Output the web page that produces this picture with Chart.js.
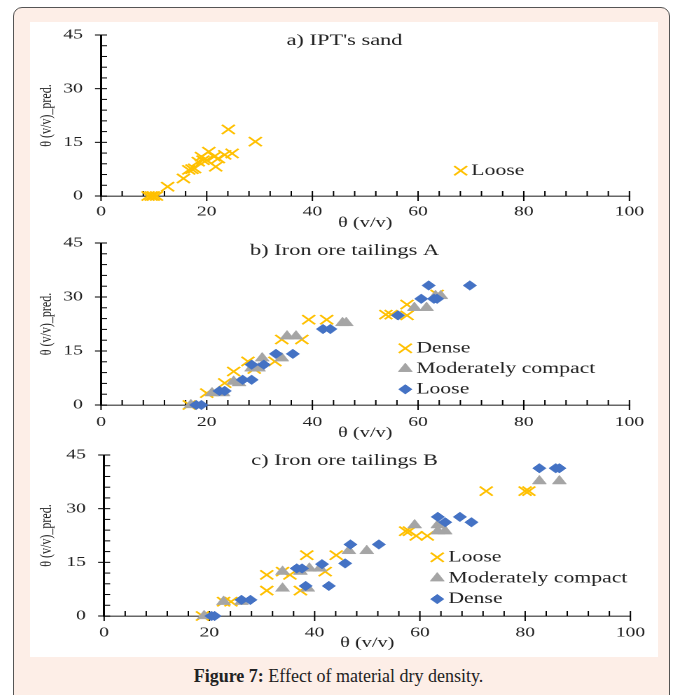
<!DOCTYPE html>
<html>
<head>
<meta charset="utf-8">
<script src="https://cdn.jsdelivr.net/npm/chart.js@4.4.1/dist/chart.umd.min.js"></script>
<style>
  html, body { margin: 0; padding: 0; background: #fff; }
  body { width: 677px; height: 695px; position: relative; overflow: hidden; font-family: "Liberation Serif", serif; }
  .frame { position: absolute; left: 13px; top: 7px; width: 657px; height: 720px; box-sizing: border-box;
           border: 1.5px solid #555; border-radius: 9px; background: #fdeee7; }
  .panel { position: absolute; left: 30px; top: 22px; width: 628px; height: 635px; background: #fff; }
  canvas { position: absolute; left: 30px; }
  .caption { position: absolute; left: 0; width: 677px; top: 666px; text-align: center; font-size: 18px; color: #222; }
</style>
</head>
<body>
<div class="frame"></div>
<div class="panel"></div>
<canvas id="chartA"></canvas>
<canvas id="chartB"></canvas>
<canvas id="chartC"></canvas>
<div class="caption"><b>Figure 7:</b> Effect of material dry density.</div>

<script>
// ---- data ----
// a) IPT's sand
var sandLooseX = [8.9, 9.5, 9.9, 10.5, 12.6, 15.6, 16.6, 17.2, 17.7, 18.4, 19, 19.3, 20, 20.4, 21.4, 21.7, 22.2, 23.4, 24.8, 24.1, 29.2];
var sandLooseY = [0, 0, 0, 0, 2.6, 4.9, 7.3, 7.5, 7.7, 9.6, 11, 10, 10, 12.4, 11, 8.2, 10.5, 11.5, 11.9, 18.6, 15.2];

// b) Iron ore tailings A
var aDenseX = [16.7, 20, 23.4, 25.1, 27.8, 29, 32.9, 34.2, 38, 39.3, 42.7, 53.9, 54.9, 57.9, 57.9, 63.6];
var aDenseY = [0, 3.3, 6.1, 9.3, 12.1, 10, 12.1, 18.2, 18.2, 23.7, 23.7, 25.1, 25.1, 24.9, 27.9, 30.7];
var aModX = [17, 21, 23.1, 25.1, 26.1, 28.5, 29.8, 30.5, 34.2, 35.2, 36.9, 45.7, 46.4, 59.3, 61.6, 63.3, 64.3];
var aModY = [0, 3.3, 3.3, 6.5, 6.1, 10.2, 10.2, 13, 13, 19.1, 19.1, 22.8, 22.8, 27, 27, 30.3, 30.3];
var aLooseX = [18, 19, 22.4, 23.4, 26.8, 28.5, 28.5, 30.8, 33.1, 36.3, 42, 43.4, 56.2, 60.6, 63, 63.6, 62, 69.8];
var aLooseY = [0, 0, 3.9, 3.9, 7, 7, 11.2, 11.2, 14.2, 14.2, 21.1, 21.1, 24.9, 29.5, 29.5, 29.5, 33.2, 33.2];

// c) Iron ore tailings B
var bLooseX = [18.7, 22.7, 24.1, 30.9, 30.9, 33.9, 35.3, 37.3, 38.5, 42, 44.1, 57.3, 58, 59.3, 61.4, 72.6, 80, 80.7];
var bLooseY = [0, 4, 4, 7.1, 11.5, 12.4, 11.5, 7.1, 17, 12.4, 17, 23.7, 23.7, 22.4, 22.4, 34.9, 34.9, 34.9];
var bModX = [19, 22.7, 26.1, 33.9, 33.9, 37.3, 38.7, 39, 41, 46.5, 49.9, 59, 63.4, 63.4, 64.8, 82.7, 86.5];
var bModY = [0, 4, 4, 12.4, 7.7, 12.4, 7.7, 13.3, 13.3, 18.2, 18.2, 25.4, 25.4, 23.7, 23.7, 37.7, 37.7];
var bDenseX = [20.4, 21, 26.1, 27.8, 36.6, 37.6, 38.3, 41.4, 42.7, 45.8, 46.8, 52.2, 63.4, 64.8, 67.6, 69.8, 82.7, 85.8, 86.5];
var bDenseY = [0, 0, 4.5, 4.5, 13.3, 13.3, 8.4, 14.5, 8.4, 14.7, 20, 20, 27.7, 26.2, 27.7, 26.2, 41.3, 41.3, 41.3];

// axes
var X_MAX = 100, X_STEP = 20, X_MINOR = 4;
var Y_MAX = 45, Y_STEP = 15, Y_MINOR = 3;

// ---- styles ----
var SERIF = '"Liberation Serif", "Times New Roman", serif';
var S = 1.4;      // the original figure is stretched horizontally
var LW = 449;     // logical canvas width

var STYLES = {
  cross:    { style: 'crossRot', r: 6.5, color: '#FFC000', lw: 1.6 },
  triangle: { style: 'triangle', r: 5.8, color: '#A5A5A5', lw: 0.5 },
  diamond:  { style: 'rectRot',  r: 4.8, color: '#4472C4', lw: 0.5 }
};

function series(label, xs, ys, kind, order) {
  var st = STYLES[kind];
  return {
    label: label,
    data: xs.map(function (x, i) { return { x: x, y: ys[i] }; }),
    pointStyle: st.style,
    pointRadius: st.r,
    pointHoverRadius: st.r,
    pointBorderWidth: st.lw,
    backgroundColor: st.color,
    borderColor: st.color,
    borderWidth: st.lw,
    showLine: false,
    clip: false,
    order: order
  };
}

function drawMarker(ctx, ds, x, y) {
  var r = ds.pointRadius;
  ctx.save();
  ctx.fillStyle = ds.backgroundColor;
  ctx.strokeStyle = ds.borderColor;
  ctx.lineWidth = ds.borderWidth;
  ctx.beginPath();
  if (ds.pointStyle === 'crossRot') {
    var d = r * Math.SQRT1_2;
    ctx.moveTo(x - d, y - d); ctx.lineTo(x + d, y + d);
    ctx.moveTo(x - d, y + d); ctx.lineTo(x + d, y - d);
    ctx.stroke();
  } else if (ds.pointStyle === 'triangle') {
    var w = r * Math.sin(2 * Math.PI / 3);
    ctx.moveTo(x, y - r); ctx.lineTo(x + w, y + r / 2); ctx.lineTo(x - w, y + r / 2);
    ctx.closePath(); ctx.fill(); ctx.stroke();
  } else {
    ctx.moveTo(x, y - r); ctx.lineTo(x + r, y); ctx.lineTo(x, y + r); ctx.lineTo(x - r, y);
    ctx.closePath(); ctx.fill(); ctx.stroke();
  }
  ctx.restore();
}

// major ticks cross the axis, minor ones point inwards
var axisTicks = {
  id: 'axisTicks',
  beforeDatasetsDraw: function (chart) {
    var ctx = chart.ctx, x = chart.scales.x, y = chart.scales.y;
    var ax = x.left, ay = y.bottom;
    ctx.save();
    ctx.strokeStyle = '#000';
    ctx.lineWidth = 1;
    for (var v = 0; v <= X_MAX; v += X_MINOR) {
      var px = x.getPixelForValue(v);
      ctx.beginPath();
      ctx.moveTo(px, ay - 5);
      ctx.lineTo(px, v % X_STEP === 0 ? ay + 5 : ay);
      ctx.stroke();
    }
    for (var w = 0; w <= Y_MAX; w += Y_MINOR) {
      var py = y.getPixelForValue(w);
      ctx.beginPath();
      ctx.moveTo(ax + 4.3, py);
      ctx.lineTo(w % Y_STEP === 0 ? ax - 4.3 : ax, py);
      ctx.stroke();
    }
    ctx.restore();
  }
};

var markerLegend = {
  id: 'markerLegend',
  afterDatasetsDraw: function (chart, args, opts) {
    if (!opts || opts.x === undefined) return;
    var ctx = chart.ctx;
    chart.data.datasets.forEach(function (ds, i) {
      var yy = opts.y + i * opts.gap;
      drawMarker(ctx, ds, opts.x, yy);
      ctx.save();
      ctx.fillStyle = '#222';
      ctx.font = '15.5px ' + SERIF;
      ctx.textAlign = 'left';
      ctx.textBaseline = 'middle';
      ctx.fillText(ds.label, opts.textX, yy);
      ctx.restore();
    });
  }
};

function makeChart(id, top, h, o) {
  var canvas = document.getElementById(id);
  canvas.width = LW;
  canvas.height = h;
  canvas.style.top = top + 'px';
  canvas.style.width = (LW * S) + 'px';
  canvas.style.height = h + 'px';

  return new Chart(canvas, {
    type: 'scatter',
    data: { datasets: o.datasets },
    options: {
      responsive: false,
      devicePixelRatio: 2,
      animation: false,
      events: [],
      layout: { autoPadding: false, padding: { left: o.pad, top: 0, right: o.pad, bottom: 0 } },
      scales: {
        x: {
          type: 'linear', min: 0, max: X_MAX,
          ticks: { stepSize: X_STEP, padding: o.xTickPad, color: '#222', font: { family: SERIF, size: 14 } },
          grid: { display: false, drawTicks: false },
          border: { color: '#666', width: 1.5 },
          title: { display: true, text: 'θ (v/v)', color: '#222',
                   font: { family: SERIF, size: 14.5, lineHeight: 1 },
                   padding: { top: 0, bottom: o.xTitlePad } },
          afterFit: function (s) { s.height = o.xHeight; s.paddingLeft = 0; s.paddingRight = 0; }
        },
        y: {
          type: 'linear', min: 0, max: Y_MAX,
          ticks: { stepSize: Y_STEP, padding: 13, color: '#222', font: { family: SERIF, size: 14 } },
          grid: { display: false, drawTicks: false },
          border: { color: '#000', width: 1.5 },
          title: { display: true, text: 'θ (v/v)_pred.', color: '#222',
                   font: { family: SERIF, size: 12, lineHeight: 1 },
                   padding: { top: o.yTitlePad, bottom: 0 } },
          afterFit: function (s) { s.width = o.yWidth; s.paddingTop = 0; s.paddingBottom = 0; }
        }
      },
      plugins: {
        legend: { display: false },
        tooltip: { enabled: false },
        title: {
          display: true, text: o.title, color: '#222',
          font: { family: SERIF, size: 16, weight: 'normal', lineHeight: 1 },
          padding: { top: o.titleTop, bottom: o.titleBottom }
        },
        markerLegend: o.legend
      }
    },
    plugins: [axisTicks, markerLegend]
  });
}

makeChart('chartA', 22, 208, {
  title: "a) IPT's sand", titleTop: 10.7, titleBottom: -13.7,
  pad: 21.1, yWidth: 29.6, yTitlePad: -15.2, xHeight: 34, xTickPad: 7.6, xTitlePad: -0.25,
  legend: { x: 307.4, textX: 315, y: 148.7, gap: 0 },
  datasets: [series('Loose', sandLooseX, sandLooseY, 'cross', 1)]
});

makeChart('chartB', 230, 210, {
  title: 'b) Iron ore tailings A', titleTop: 12.7, titleBottom: -15.7,
  pad: 21.1, yWidth: 29.6, yTitlePad: -15.2, xHeight: 35, xTickPad: 8.9, xTitlePad: -0.25,
  legend: { x: 267.9, textX: 275.7, y: 118.3, gap: 20.5 },
  datasets: [
    series('Dense', aDenseX, aDenseY, 'cross', 3),
    series('Moderately compact', aModX, aModY, 'triangle', 2),
    series('Loose', aLooseX, aLooseY, 'diamond', 1)
  ]
});

makeChart('chartC', 440, 215, {
  title: 'c) Iron ore tailings B', titleTop: 13, titleBottom: -14,
  pad: 20.4, yWidth: 32.5, yTitlePad: -14.5, xHeight: 39, xTickPad: 8.6, xTitlePad: 4.75,
  legend: { x: 290.7, textX: 298.6, y: 117.3, gap: 20.9 },
  datasets: [
    series('Loose', bLooseX, bLooseY, 'cross', 3),
    series('Moderately compact', bModX, bModY, 'triangle', 2),
    series('Dense', bDenseX, bDenseY, 'diamond', 1)
  ]
});
</script>
</body>
</html>
